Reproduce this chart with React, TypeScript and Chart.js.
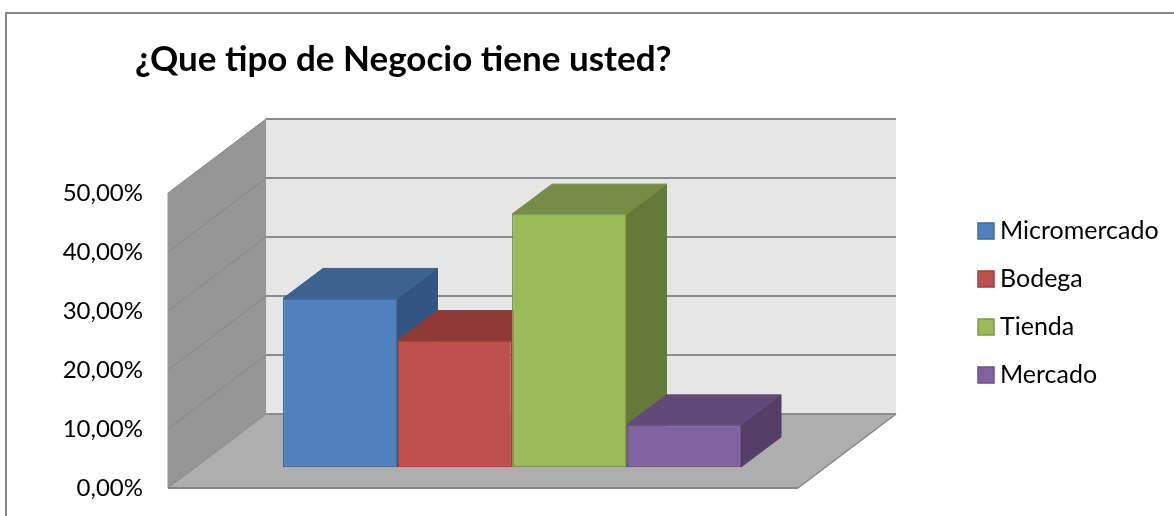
import React, { useEffect, useRef } from "react";
import { Chart, registerables } from "chart.js";

Chart.register(...registerables);

const categoryLabel = [""];
const seriesNames = ["Micromercado", "Bodega", "Tienda", "Mercado"];
const seriesValues = [28.57, 21.43, 42.86, 7.14];
const frontColors = ["#4F81BD", "#C0504D", "#9BBB59", "#8064A2"];
const edgeColors = ["#406A9B", "#9E4240", "#7F9A49", "#695384"];
const topColors = ["#3B6291", "#903A38", "#748C43", "#604A7A"];
const sideColors = ["#325480", "#7B3230", "#647A38", "#533F68"];

const FONT = "Lato";
const WALL_DX = 98;
const WALL_DY = -74;
const BAR_DX = 29;
const BAR_DY = -21;
const BAR_DEPTH_X = 40;
const BAR_DEPTH_Y = -30;

function poly(ctx: CanvasRenderingContext2D, pts: number[][], fill: string, stroke?: string) {
  ctx.beginPath();
  pts.forEach(([x, y], i) => (i ? ctx.lineTo(x, y) : ctx.moveTo(x, y)));
  ctx.closePath();
  ctx.fillStyle = fill;
  ctx.fill();
  if (stroke) {
    ctx.strokeStyle = stroke;
    ctx.lineWidth = 1;
    ctx.stroke();
  }
}

function line(ctx: CanvasRenderingContext2D, x1: number, y1: number, x2: number, y2: number, color: string, width: number) {
  ctx.beginPath();
  ctx.moveTo(x1, y1);
  ctx.lineTo(x2, y2);
  ctx.strokeStyle = color;
  ctx.lineWidth = width;
  ctx.stroke();
}

// Frame, floor, walls and the grid behind the columns.
const roomPlugin = {
  id: "room",
  afterLayout(chart: any) {
    const legend = chart.legend;
    const pad = legend.options.labels.padding;
    legend.left = 984.5 - pad;
    legend.right = chart.width;
    legend.top = 195.5;
    legend.bottom = chart.height;
    chart.titleBlock.left = 135;
    chart.titleBlock.right = chart.width;
  },
  beforeDraw(chart: any) {
    const ctx = chart.ctx as CanvasRenderingContext2D;
    ctx.save();
    ctx.fillStyle = "#FFFFFF";
    ctx.fillRect(0, 0, chart.width, chart.height);
    line(ctx, 6, 13, chart.width, 13, "#868686", 2);
    line(ctx, 6, 12, 6, chart.height, "#868686", 2);
    ctx.restore();
  },
  beforeDatasetsDraw(chart: any) {
    const ctx = chart.ctx as CanvasRenderingContext2D;
    const { left, right, top, bottom } = chart.chartArea;
    const y = chart.scales.y;
    ctx.save();
    // back wall
    poly(ctx, [[left + WALL_DX, top + WALL_DY], [right + WALL_DX, top + WALL_DY], [right + WALL_DX, bottom + WALL_DY], [left + WALL_DX, bottom + WALL_DY]], "#E6E6E6");
    // side wall
    poly(ctx, [[left, top], [left + WALL_DX, top + WALL_DY], [left + WALL_DX, bottom + WALL_DY], [left, bottom]], "#969696");
    // floor
    poly(ctx, [[left, bottom], [right, bottom], [right + WALL_DX, bottom + WALL_DY], [left + WALL_DX, bottom + WALL_DY]], "#AEAEAE");
    y.ticks.forEach((t: any) => {
      const py = y.getPixelForValue(t.value);
      line(ctx, left, py, left + WALL_DX, py + WALL_DY, "#868686", 1);
      line(ctx, left + WALL_DX, py + WALL_DY, right + WALL_DX, py + WALL_DY, "#8C8C8C", 2);
    });
    line(ctx, left, top, left, bottom, "#9A9A9A", 1);
    line(ctx, left, bottom, right, bottom, "#868686", 2);
    line(ctx, right, bottom, right + WALL_DX, bottom + WALL_DY, "#868686", 1.5);
    // top and side faces, left to right: each column's top lies over its neighbour's side
    for (let i = 0; i < chart.data.datasets.length; i++) {
      const bar = chart.getDatasetMeta(i).data[0] as any;
      const half = bar.width / 2;
      const x0 = bar.x - half + BAR_DX;
      const x1 = bar.x + half + BAR_DX;
      const yTop = bar.y + BAR_DY;
      const yBase = bar.base + BAR_DY;
      poly(ctx, [[x1, yTop], [x1 + BAR_DEPTH_X, yTop + BAR_DEPTH_Y], [x1 + BAR_DEPTH_X, yBase + BAR_DEPTH_Y], [x1, yBase]], sideColors[i], sideColors[i]);
      poly(ctx, [[x0, yTop], [x1, yTop], [x1 + BAR_DEPTH_X, yTop + BAR_DEPTH_Y], [x0 + BAR_DEPTH_X, yTop + BAR_DEPTH_Y]], topColors[i], topColors[i]);
    }
    ctx.restore();
  },
  // The front faces stand a little way inside the room, off the front plane.
  beforeDatasetDraw(chart: any) {
    chart.ctx.save();
    chart.ctx.translate(BAR_DX, BAR_DY);
  },
  afterDatasetDraw(chart: any) {
    chart.ctx.restore();
  },
};

export default function App() {
  const ref = useRef<HTMLCanvasElement>(null);
  useEffect(() => {
    const chart = new Chart(ref.current!, {
      type: "bar",
      plugins: [roomPlugin],
      data: {
        labels: categoryLabel,
        datasets: seriesNames.map((name, i) => ({
          label: name,
          data: [seriesValues[i]],
          backgroundColor: frontColors[i],
          borderColor: edgeColors[i],
          borderWidth: 1.5,
          borderSkipped: false,
          clip: false as any,
        })),
      },
      options: {
        animation: false,
        responsive: false,
        layout: { padding: { left: 8, right: 200, top: 0, bottom: 28 } },
        datasets: { bar: { categoryPercentage: 0.727, barPercentage: 1 } },
        scales: {
          x: { display: false, stacked: false },
          y: {
            min: 0,
            max: 50,
            afterFit(scale: any) {
              // Fixed gutter; the tick padding only applies sideways here.
              scale.width = 160;
              scale.paddingTop = 0;
              scale.paddingBottom = 0;
            },
            grid: { display: false, drawTicks: false },
            border: { display: false },
            ticks: {
              stepSize: 10,
              padding: 25,
              color: "#000000",
              font: { family: FONT, size: 24 },
              callback: (v: any) => Number(v).toFixed(2).replace(".", ",") + "%",
            },
          },
        },
        plugins: {
          tooltip: { enabled: false },
          title: {
            display: true,
            text: "¿Que tipo de Negocio tiene usted?",
            align: "start",
            color: "#000000",
            font: { family: FONT, size: 35, weight: "bold" },
            padding: { top: 39, bottom: 112 },
          },
          legend: {
            position: "right",
            align: "start",
            maxWidth: 176,
            labels: {
              usePointStyle: true,
              pointStyle: "rect",
              boxWidth: 3,
              boxHeight: 16,
              padding: 23,
              color: "#000000",
              font: { family: FONT, size: 25 },
            },
          },
        },
      },
    });
    return () => chart.destroy();
  }, []);
  return (
    <canvas
      ref={ref}
      width={1174}
      height={516}
      style={{ position: "fixed", left: 0, top: 0, width: 1174, height: 516 }}
    />
  );
}
